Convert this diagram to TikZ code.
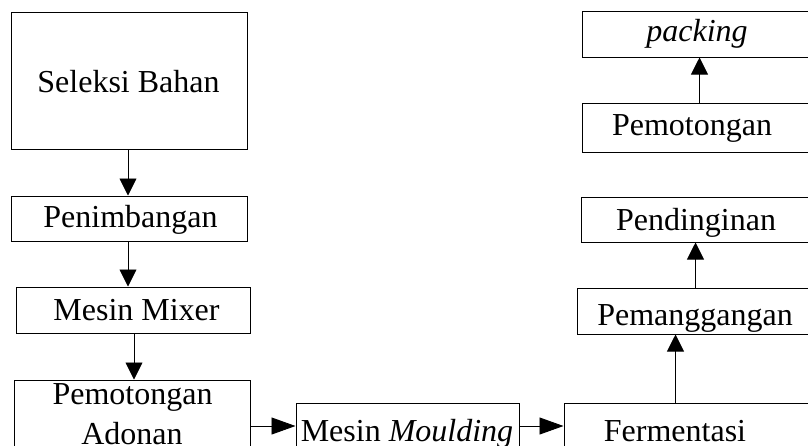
\documentclass[tikz,border=0pt]{standalone}
\usepackage{fontspec}
\newfontfamily\diagfont{Liberation Serif}
\usetikzlibrary{arrows.meta}

\begin{document}
\begin{tikzpicture}[x=1pt,y=-1pt,
  box/.style={draw, line width=1pt, rectangle, inner sep=0pt},
  lbl/.style={anchor=base, inner sep=0pt, font=\diagfont\fontsize{32}{38}\selectfont},
  vflow/.style={line width=0.9pt, -{Triangle[length=17pt,width=17pt]}},
  hflow/.style={line width=0.9pt, -{Triangle[length=24pt,width=17pt]}}]
\useasboundingbox (0,0) rectangle (808,445);

% labels
\node[lbl] (tsel)  at (128.5,92)  {Seleksi Bahan};
\node[lbl] (tpen)  at (130.5,227) {Penimbangan};
\node[lbl] (tmix)  at (136.5,320) {Mesin Mixer};
\node[lbl] (tado1) at (132.5,404) {Pemotongan};
\node[lbl] (tado2) at (132,444)   {Adonan};
\node[lbl] (tmou)  at (407,441)   {Mesin \textit{Moulding}};
\node[lbl] (tfer)  at (675,441)   {Fermentasi};
\node[lbl] (tpgg)  at (695,325)   {Pemanggangan};
\node[lbl] (tpdn)  at (696,230)   {Pendinginan};
\node[lbl] (tpmt)  at (692,135)   {Pemotongan};
\node[lbl] (tpck)  at (697,41)    {\textit{packing}};

\begin{scope}
\clip (0,0) rectangle (808,445);
% left column
\node[box, minimum width=236pt, minimum height=137pt] (sel) at (129,80.5) {};
\node[box, minimum width=236pt, minimum height=45pt]  (pen) at (129,218.5) {};
\node[box, minimum width=234pt, minimum height=46pt]  (mix) at (133,310) {};
\node[box, minimum width=236pt, minimum height=90pt]  (ado) at (132,425) {};

% bottom row
\node[box, minimum width=223pt, minimum height=46pt]  (mou) at (407.5,426) {};
\node[box, minimum width=256pt, minimum height=46pt]  (fer) at (692,426) {};

% right column
\node[box, minimum width=235pt, minimum height=46pt]  (pgg) at (694.5,311) {};
\node[box, minimum width=231pt, minimum height=45pt]  (pdn) at (696.5,219.5) {};
\node[box, minimum width=230pt, minimum height=49pt]  (pmt) at (697,127.5) {};
\node[box, minimum width=230pt, minimum height=46pt]  (pck) at (697,34) {};

% connectors
\draw[vflow] ([xshift=-1pt]sel.south) -- ([xshift=-1pt]sel.south |- pen.north);
\draw[vflow] ([xshift=-1pt]pen.south) -- ([xshift=-1pt]pen.south |- mix.north);
\draw[vflow] ([xshift=1pt]mix.south) -- ([xshift=1pt]mix.south |- ado.north);
\draw[hflow] (ado.east |- mou.west) -- (mou.west);
\draw[hflow] (mou.east) -- (fer.west);
\draw[vflow] ([xshift=112pt]fer.north west) -- ([xshift=112pt]fer.north west |- pgg.south);
\draw[vflow] ([xshift=119pt]pgg.north west) -- ([xshift=119pt]pgg.north west |- pdn.south);
\draw[vflow] ([xshift=118pt]pmt.north west) -- ([xshift=118pt]pmt.north west |- pck.south);
\end{scope}
\end{tikzpicture}
\end{document}
